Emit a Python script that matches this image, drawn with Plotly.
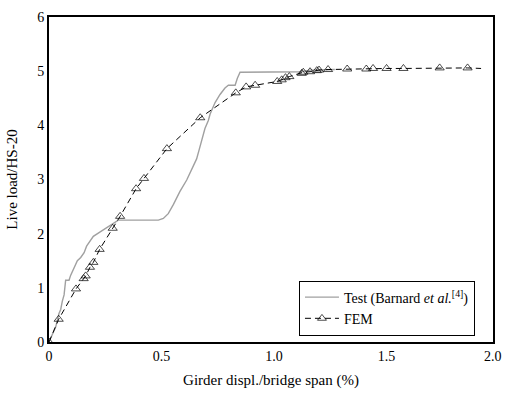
import plotly.graph_objects as go

# Test (Barnard et al.) curve
test_x = [0, 0.01, 0.022, 0.03, 0.044, 0.052, 0.059, 0.067, 0.074, 0.089, 0.096, 0.103,
          0.111, 0.126, 0.141, 0.156, 0.167, 0.197, 0.219, 0.264, 0.279, 0.308, 0.40,
          0.486, 0.508, 0.53, 0.553, 0.582, 0.612, 0.641, 0.656, 0.668, 0.679, 0.693,
          0.708, 0.716, 0.738, 0.76, 0.782, 0.797, 0.827, 0.837, 0.849, 1.12, 1.16, 1.27]
test_y = [0, 0.1, 0.19, 0.28, 0.52, 0.6, 0.75, 0.87, 1.14, 1.14, 1.23, 1.30,
          1.38, 1.50, 1.56, 1.65, 1.77, 1.95, 2.01, 2.13, 2.16, 2.25, 2.25,
          2.25, 2.28, 2.37, 2.54, 2.78, 2.99, 3.23, 3.38, 3.56, 3.74, 3.94,
          4.09, 4.21, 4.42, 4.57, 4.69, 4.74, 4.74, 4.87, 4.98, 4.99, 5.02, 5.03]

# FEM curve
fem_x = [0, 0.043, 0.12, 0.154, 0.163, 0.182, 0.197, 0.225, 0.283, 0.316, 0.387, 0.422,
         0.524, 0.672, 0.83, 0.876, 0.916, 1.014, 1.034, 1.051, 1.068, 1.123, 1.13, 1.16,
         1.19, 1.20, 1.24, 1.325, 1.41, 1.44, 1.50, 1.575, 1.736, 1.86, 1.92]
fem_y = [0, 0.42, 0.98, 1.17, 1.22, 1.38, 1.47, 1.71, 2.10, 2.32, 2.83, 3.02,
         3.57, 4.14, 4.60, 4.71, 4.74, 4.81, 4.84, 4.88, 4.90, 4.96, 4.98, 4.99,
         5.01, 5.02, 5.03, 5.04, 5.04, 5.05, 5.05, 5.05, 5.06, 5.06, 5.05]

x_ticks = [0, 0.5, 1.0, 1.5]
x_tick_labels = ["0", "0.5", "1.0", "1.5"]
x_last_tick = 2.0
x_range = [0, 1.973]
y_ticks = [0, 1, 2, 3, 4, 5, 6]

FONT = "Times New Roman"

fig = go.Figure()
fig.add_trace(go.Scatter(
    x=test_x, y=test_y, mode="lines",
    line=dict(color="#a0a0a0", width=1.4),
    name="Test (Barnard <i>et al.</i><sup>[4]</sup>)",
))
marker_sizes = [8] * (len(fem_x) - 1) + [0]
fig.add_trace(go.Scatter(
    x=fem_x, y=fem_y, mode="lines+markers",
    line=dict(color="black", width=1, dash="6px,4px"),
    marker=dict(symbol="triangle-up-open", size=marker_sizes, color="black",
                line=dict(color="black", width=1)),
    name="FEM",
))

# last tick label lies just outside the framed range
fig.add_annotation(x=(x_last_tick - x_range[0]) / (x_range[1] - x_range[0]), y=0,
                   xref="paper", yref="paper", text="2.0",
                   showarrow=False, yanchor="top", xanchor="right", xshift=5, yshift=-5,
                   font=dict(family=FONT, size=14, color="black"))

fig.update_layout(
    width=508, height=396,
    margin=dict(l=49, r=15, t=10, b=50),
    paper_bgcolor="white", plot_bgcolor="white",
    font=dict(family=FONT, size=14, color="black"),
    showlegend=True,
    legend=dict(x=0.563, y=0.02, xanchor="left", yanchor="bottom",
                bordercolor="black", borderwidth=1, bgcolor="white",
                font=dict(family=FONT, size=14, color="black"),
                tracegroupgap=0, itemwidth=34),
    xaxis=dict(range=x_range, tickvals=x_ticks, ticktext=x_tick_labels,
               showgrid=False, zeroline=False, showline=True, mirror=True,
               linecolor="black", linewidth=2, ticks="",
               title=dict(text="Girder displ./bridge span (%)", standoff=12,
                          font=dict(family=FONT, size=15))),
    yaxis=dict(range=[0, 6], tickvals=y_ticks,
               showgrid=False, zeroline=False, showline=True, mirror=True,
               linecolor="black", linewidth=2, ticks="",
               title=dict(text="Live load/HS-20", standoff=16,
                          font=dict(family=FONT, size=15))),
)

fig.write_html("out.html", config={"displayModeBar": False})
with open("out.html", encoding="utf-8") as f:
    html = f.read()
html = html.replace("<body>", '<body style="margin:0;padding:0;overflow:hidden">', 1)
with open("out.html", "w", encoding="utf-8") as f:
    f.write(html)
